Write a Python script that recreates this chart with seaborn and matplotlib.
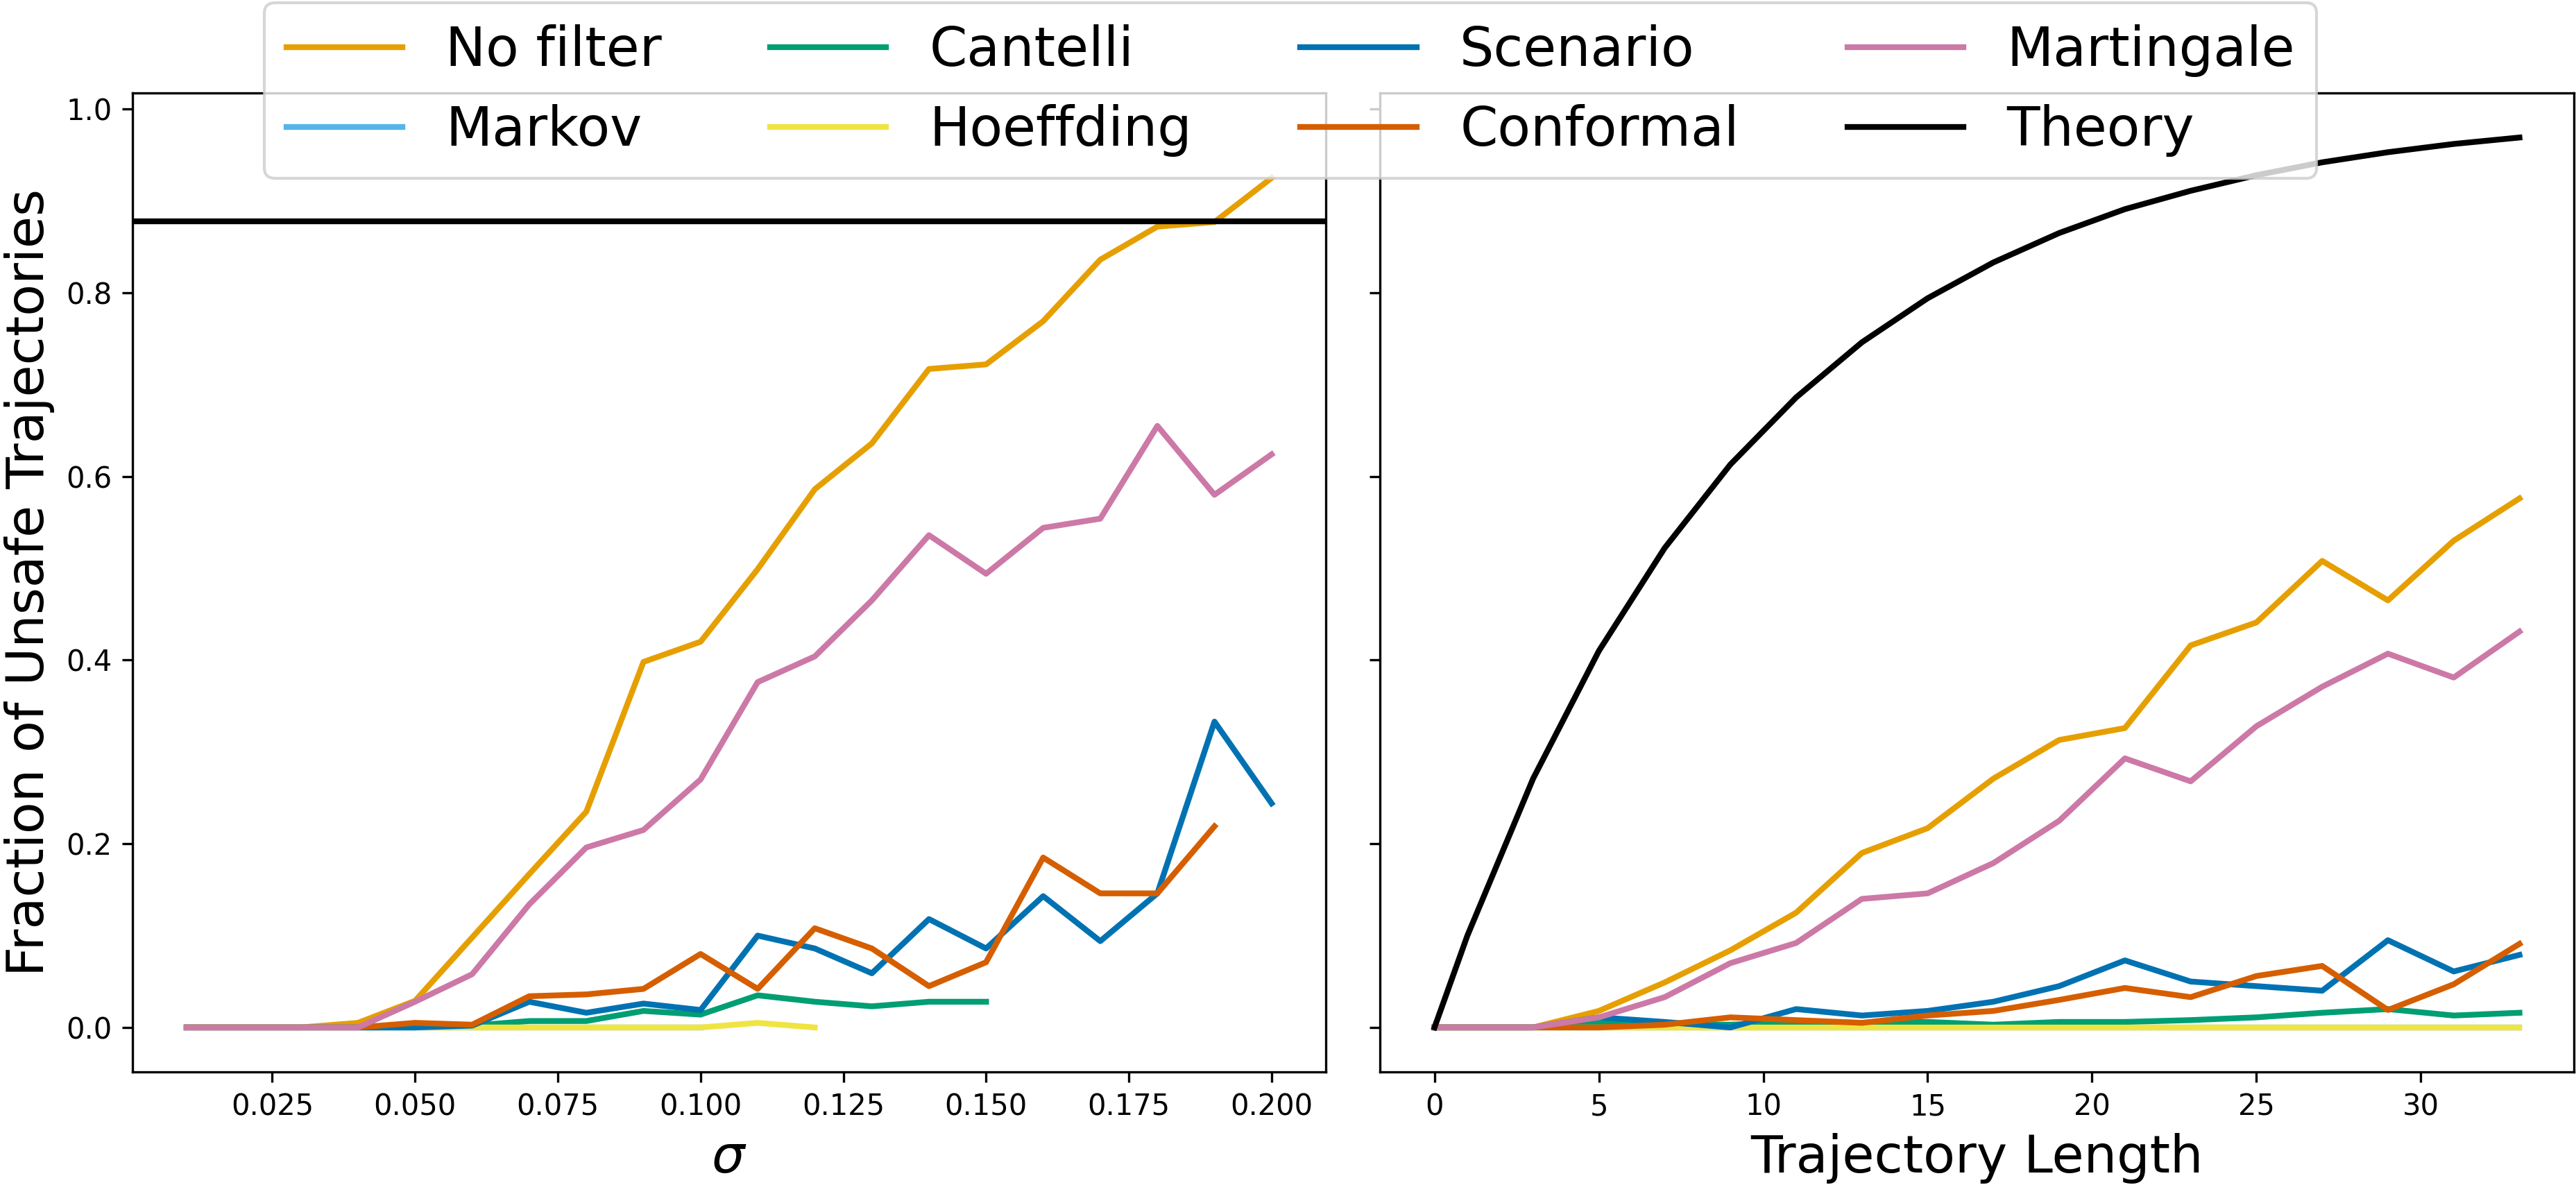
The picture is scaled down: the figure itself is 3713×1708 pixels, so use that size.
import numpy as np
import pandas as pd
import matplotlib
matplotlib.use("Agg")
import matplotlib.pyplot as plt
import seaborn as sns

# left panel: noise level sigma
sigma = [0.01, 0.02, 0.03, 0.04, 0.05, 0.06, 0.07, 0.08, 0.09, 0.10,
         0.11, 0.12, 0.13, 0.14, 0.15, 0.16, 0.17, 0.18, 0.19, 0.20]
nofilter_sigma = [0, 0, 0, 0.005, 0.029, 0.098, 0.167, 0.235, 0.398, 0.420,
                  0.499, 0.586, 0.636, 0.717, 0.722, 0.769, 0.836, 0.872, 0.877, 0.925]
markov_sigma = [0, 0, 0, 0, 0, 0, 0, 0, 0, 0]
cantelli_sigma = [0, 0, 0, 0, 0, 0.002, 0.007, 0.007, 0.018, 0.014,
                  0.035, 0.028, 0.023, 0.028, 0.028]
hoeffding_sigma = [0, 0, 0, 0, 0, 0, 0, 0, 0, 0, 0.005, 0.0]
scenario_sigma = [0, 0, 0, 0, 0, 0.002, 0.028, 0.016, 0.026, 0.019,
                  0.100, 0.086, 0.059, 0.118, 0.086, 0.143, 0.094, 0.146, 0.333, 0.244]
conformal_sigma = [0, 0, 0, 0, 0.005, 0.003, 0.034, 0.036, 0.042, 0.080,
                   0.042, 0.108, 0.086, 0.045, 0.071, 0.185, 0.146, 0.146, 0.219]
martingale_sigma = [0, 0, 0, 0, 0.028, 0.058, 0.134, 0.196, 0.215, 0.270,
                    0.376, 0.404, 0.465, 0.536, 0.494, 0.544, 0.554, 0.655, 0.580, 0.624]
theory_sigma = 0.878

# right panel: trajectory length
length = [0, 1, 3, 5, 7, 9, 11, 13, 15, 17, 19, 21, 23, 25, 27, 29, 31, 33]
nofilter_len = [0, 0, 0, 0.018, 0.049, 0.084, 0.125, 0.190, 0.217, 0.271,
                0.313, 0.326, 0.416, 0.441, 0.508, 0.465, 0.530, 0.576]
markov_len = [0] * 18
cantelli_len = [0, 0, 0, 0.005, 0.003, 0.003, 0.006, 0.005, 0.006, 0.003,
                0.006, 0.006, 0.008, 0.011, 0.016, 0.020, 0.013, 0.016]
hoeffding_len = [0] * 18
scenario_len = [0, 0, 0, 0.011, 0.006, 0.0, 0.020, 0.013, 0.018, 0.028,
                0.045, 0.073, 0.050, 0.045, 0.040, 0.095, 0.061, 0.079]
conformal_len = [0, 0, 0, 0, 0.003, 0.011, 0.008, 0.005, 0.013, 0.018,
                 0.030, 0.043, 0.033, 0.056, 0.067, 0.019, 0.047, 0.091]
martingale_len = [0, 0, 0, 0.011, 0.033, 0.070, 0.092, 0.140, 0.146, 0.179,
                  0.225, 0.293, 0.268, 0.328, 0.371, 0.407, 0.381, 0.431]
theory_len = [0, 0.100, 0.271, 0.410, 0.522, 0.613, 0.686, 0.746, 0.794, 0.833,
              0.865, 0.891, 0.911, 0.928, 0.942, 0.953, 0.962, 0.969]

names = ["No filter", "Markov", "Cantelli", "Hoeffding", "Scenario", "Conformal", "Martingale"]
colors = ["#E69F00", "#56B4E9", "#009E73", "#F0E442", "#0072B2", "#D55E00", "#CC79A7"]
left_series = [nofilter_sigma, markov_sigma, cantelli_sigma, hoeffding_sigma,
               scenario_sigma, conformal_sigma, martingale_sigma]
right_series = [nofilter_len, markov_len, cantelli_len, hoeffding_len,
                scenario_len, conformal_len, martingale_len]

fig, (ax1, ax2) = plt.subplots(1, 2, sharey=True, figsize=(3713 / 300, 1708 / 300), dpi=300)
fig.subplots_adjust(left=0.0514, right=0.9991, bottom=0.0954, top=0.9215, wspace=0.0456)

for name, col, ys in zip(names, colors, left_series):
    sns.lineplot(x=sigma[:len(ys)], y=ys, ax=ax1, color=col, lw=2, label=name, legend=False)
ax1.axhline(theory_sigma, color="black", lw=2, label="Theory")

for name, col, ys in zip(names, colors, right_series):
    sns.lineplot(x=length[:len(ys)], y=ys, ax=ax2, color=col, lw=2, label=name, legend=False)
sns.lineplot(x=length, y=theory_len, ax=ax2, color="black", lw=2, label="Theory", legend=False)

ax1.set_xlabel(r"$\sigma$", fontsize=18)
ax2.set_xlabel("Trajectory Length", fontsize=18)
ax1.set_ylabel("Fraction of Unsafe Trajectories", fontsize=18)
ax2.set_ylabel("")
for ax in (ax1, ax2):
    ax.tick_params(labelsize=10)

handles, labels = ax2.get_legend_handles_labels()
fig.legend(handles, labels, loc="upper center", bbox_to_anchor=(0.501, 1.0), ncol=4,
           fontsize=18.7, handlelength=2.15, borderaxespad=0.05)

fig.savefig("out.png", dpi=300)
